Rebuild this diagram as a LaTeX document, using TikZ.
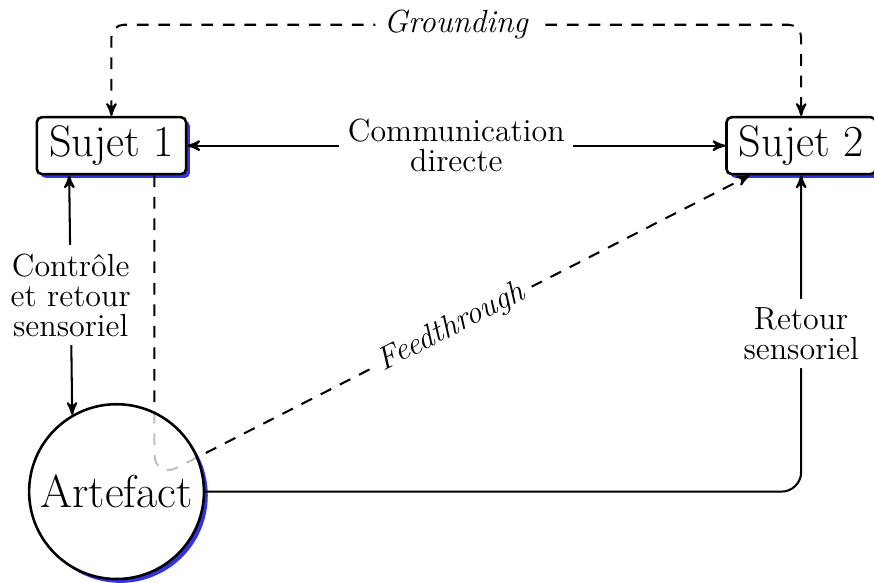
\documentclass[tikz,border=0pt]{standalone}
\usepackage{tikz}
\usetikzlibrary{arrows, shadows, backgrounds, positioning}

\tikzstyle{sujet} = [rectangle, rounded corners=2pt, minimum width=2.05cm, minimum height=0.76cm, text centered, draw=black, line width=1pt, fill=white, font=\LARGE, drop shadow={fill=blue!85!black, opacity=0.8, shadow xshift=1.5pt, shadow yshift=-1.5pt}]
\tikzstyle{artefact} = [circle, minimum size=2.4cm, inner sep=0pt, text centered, draw=black, line width=1pt, fill=white, fill opacity=0.75, text opacity=1, font=\fontsize{18}{22}\selectfont]
\tikzstyle{arrow} = [thick,->,>=stealth']
\tikzstyle{twoway} = [thick,<->,>=stealth']
\tikzstyle{dasharrow} = [thick,->,>=stealth',dash pattern=on 4.6pt off 3.8pt]
\tikzstyle{lbl} = [fill=white, align=center, font=\fontsize{12.5}{11.7}\selectfont]

\begin{document}
\begin{tikzpicture}[node distance=2cm]
\useasboundingbox (0,0) rectangle (12,8);

\node(sujet1)[sujet] at (1.53,6) {Sujet 1};
\node(sujet2)[sujet, right of=sujet1, xshift=7.47cm]{Sujet 2};

\coordinate [above of=sujet1, yshift=-0.34cm] (g1);
\coordinate [above of=sujet2, yshift=-0.34cm] (g2);
\coordinate [below of=sujet1, xshift=0.59cm, yshift=-2.58cm] (f1);

% feedthrough first, the artefact is drawn over it
\draw [dasharrow, rounded corners=0.35cm] (sujet1.south -| f1) -- (f1) -- node [lbl, sloped] {\textit{Feedthrough}} (sujet2.210);

\node(artefact)[artefact, below of=sujet1, xshift=0.07cm, yshift=-2.75cm]{Artefact};

\draw [dasharrow, <->, rounded corners=0.17cm] (sujet1.north) -- (g1) -- node [lbl] {\textit{Grounding}} (g2) -- (sujet2.north);
\draw [twoway] (sujet1.east) -- node [lbl] {Communication\\directe} (sujet2.west);
\draw [twoway] ([xshift=-0.58cm]sujet1.south) -- node [lbl] {Contrôle\\et retour\\sensoriel} (artefact.120);
\draw [arrow, rounded corners=0.27cm] (artefact.east) -| node [lbl, pos=0.75] {Retour\\sensoriel} (sujet2.south);

\begin{scope}[on background layer]
\fill [blue!85!black, opacity=0.8] ([shift={(1.5pt,-1.5pt)}]artefact.center) circle (1.2cm);
\fill [white] (artefact.center) circle (1.2cm);
\end{scope}
\end{tikzpicture}
\end{document}
